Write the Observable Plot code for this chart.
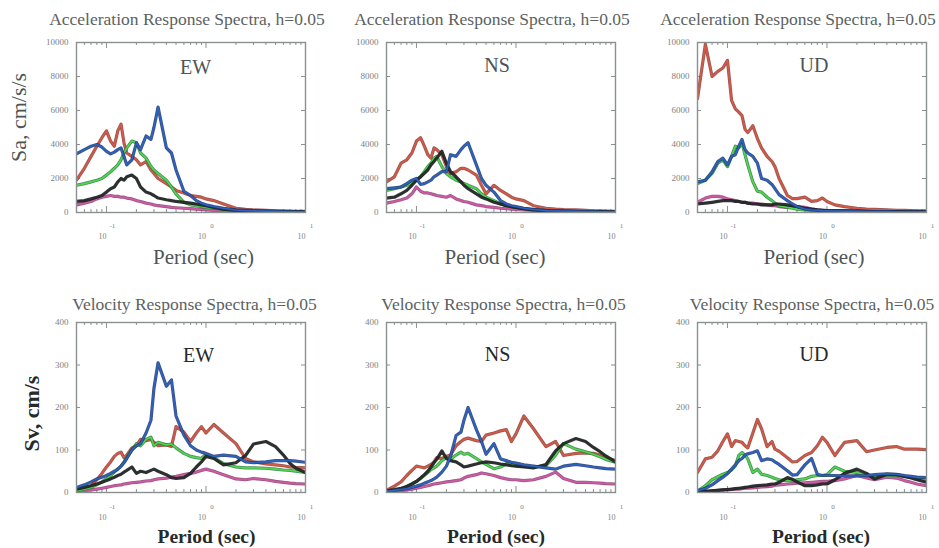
<!DOCTYPE html>
<html>
<head>
<meta charset="utf-8">
<script src="https://cdn.jsdelivr.net/npm/d3@7"></script>
<script src="https://cdn.jsdelivr.net/npm/@observablehq/plot@0.6"></script>
<style>
  html, body { margin: 0; padding: 0; background: #fff; }
  #root { position: relative; width: 939px; height: 548px; overflow: hidden; background: #fff; }
  .cell { position: absolute; }
</style>
</head>
<body>
<div id="root"></div>
<script>
// ---------- data ----------
const periods = [0.05,0.06,0.07,0.08,0.09,0.1,0.11,0.12,0.13,0.14,0.15,0.16,0.18,0.2,0.22,0.25,0.28,0.3,0.33,0.4,0.45,0.5,0.6,0.7,0.8,0.9,1.0,1.2,1.5,2,2.5,3,4,5,6,7,8,10];

const saTicks = [0, 2000, 4000, 6000, 8000, 10000];
const svTicks = [0, 100, 200, 300, 400];
const majorPeriods = [0.1, 1, 10];
const minorPeriods = [0.06,0.07,0.08,0.09,0.2,0.3,0.4,0.5,0.6,0.7,0.8,0.9,2,3,4,5,6,7,8,9];
const components = ["EW", "NS", "UD"];
const seriesNames = ["magenta", "red", "green", "black", "blue"];

// Acceleration response spectra, cm/s/s
const saEW_red     = [1900,2600,3300,3900,4400,4800,4200,3900,4800,5200,4100,3500,3300,3100,2800,3000,2500,2300,2000,1700,1500,1300,1150,1000,950,900,800,700,500,250,180,150,120,100,90,80,70,60];
const saEW_blue    = [3450,3700,3900,4000,3850,3600,3450,3550,3700,3800,3300,2800,3100,4100,3700,4500,4300,5000,6200,3800,3500,2500,1250,1000,700,550,450,350,250,150,120,100,80,70,60,50,45,40];
const saEW_green   = [1600,1700,1800,1900,2000,2200,2400,2600,2800,3100,3500,3800,4200,4100,3500,3200,2700,2500,2300,1900,1500,1100,600,450,400,350,300,250,180,120,100,80,70,60,50,45,40,35];
const saEW_black   = [650,700,800,900,1000,1200,1400,1500,1800,2000,1900,2100,2200,2000,1500,1200,1100,1000,850,750,700,650,600,550,500,450,400,300,200,120,100,80,70,60,50,45,40,35];
const saEW_magenta = [450,550,650,800,900,950,1000,950,950,900,900,850,800,700,650,550,500,450,400,350,300,280,250,230,200,180,160,130,100,80,70,60,50,45,40,35,30,30];

const saNS_red     = [1800,2100,2900,3100,3500,4200,4400,3900,3400,3200,3800,3700,3400,2700,2300,2400,2600,2600,2500,2200,1600,1100,1600,1300,1100,900,800,700,400,250,200,170,150,120,100,90,80,70];
const saNS_blue    = [1400,1450,1500,1700,1900,2000,1650,1700,1800,1900,2100,2200,2400,2400,3400,3300,3700,3900,4100,2800,2000,1600,1200,700,500,400,350,250,180,120,100,90,70,60,50,45,40,35];
const saNS_green   = [1300,1400,1500,1600,1750,1900,2100,2400,2700,2900,3200,3300,2700,2300,2100,1900,1800,1700,1600,1400,1100,900,700,500,400,350,300,220,160,110,90,80,70,60,50,45,40,35];
const saNS_black   = [850,900,1100,1300,1600,1900,2100,2300,2500,2800,3000,3200,3600,2900,2400,2100,1800,1600,1400,1100,900,800,600,500,400,350,300,220,150,100,80,70,60,50,45,40,35,30];
const saNS_magenta = [550,650,750,850,1100,1500,1250,1150,1150,1100,1050,1000,950,900,1000,800,700,650,600,450,400,350,300,250,220,200,180,150,120,90,80,70,60,50,45,40,35,30];

const saUD_red     = [6700,9900,8000,8300,8500,8950,6600,6100,5900,5700,4900,4700,5100,4350,3800,3300,3000,2700,2000,1000,820,820,900,650,700,850,650,450,350,250,200,180,150,130,120,110,100,100];
const saUD_blue    = [1800,1900,2400,3000,3200,2800,3300,3400,3900,4300,3700,3500,3300,2900,2000,1900,1650,1400,1050,700,500,350,200,150,130,110,100,90,80,70,60,55,50,45,40,40,35,35];
const saUD_green   = [1700,1900,2300,2900,3100,2700,3300,3900,3800,4100,3400,2800,1800,1250,1200,900,700,550,400,300,250,200,150,130,110,100,90,80,70,60,55,50,45,40,40,35,35,30];
const saUD_black   = [500,550,600,650,700,700,700,650,650,600,600,550,500,500,450,450,450,500,500,450,400,350,250,200,150,130,110,100,90,80,70,60,55,50,45,40,40,35];
const saUD_magenta = [600,850,950,950,900,800,750,700,650,600,600,550,550,500,500,450,400,400,350,300,300,350,300,200,150,130,110,100,90,80,70,60,55,50,45,40,40,35];

// Velocity response spectra, cm/s
const svEW_red     = [8,10,15,30,45,60,72,85,92,95,82,88,105,110,125,122,125,118,110,112,108,155,142,120,140,155,140,160,140,115,80,72,67,65,63,60,59,58];
const svEW_blue    = [12,18,25,32,36,40,45,50,55,62,70,80,100,110,115,140,170,245,305,250,265,180,135,110,100,95,92,85,88,85,72,70,72,75,75,75,74,71];
const svEW_green   = [4,8,12,18,25,32,40,48,55,62,72,82,100,115,110,125,130,110,118,112,114,105,92,85,82,80,90,82,68,60,58,58,57,55,53,52,50,47];
const svEW_black   = [8,12,16,20,24,28,32,36,40,43,48,52,60,45,50,47,52,55,50,42,35,33,35,45,60,72,85,80,65,70,87,114,120,108,88,68,57,47];
const svEW_magenta = [2,4,6,8,10,12,14,16,17,18,20,21,23,24,25,27,28,30,32,34,36,38,42,45,48,52,55,50,42,32,30,33,30,26,24,22,21,20];

const svNS_red     = [5,15,25,40,52,62,60,58,62,66,72,82,80,85,88,110,120,125,128,122,120,135,140,145,148,120,138,180,150,108,120,87,92,93,92,88,82,75];
const svNS_blue    = [3,5,7,9,12,15,18,22,25,28,32,36,48,62,85,134,142,170,200,148,120,90,115,79,75,71,69,65,62,58,55,62,66,63,60,58,56,55];
const svNS_green   = [3,5,8,14,20,26,33,40,47,54,58,62,75,82,78,88,95,90,92,80,72,66,56,60,68,66,63,62,60,63,88,115,102,96,90,84,78,71];
const svNS_black   = [4,7,10,14,20,26,34,42,50,60,70,78,98,80,75,72,65,60,62,67,70,72,70,67,65,63,62,60,58,66,98,115,127,120,106,96,86,72];
const svNS_magenta = [2,3,4,6,8,10,12,14,16,18,20,21,23,25,26,28,30,34,38,42,46,44,40,35,32,30,30,28,30,38,48,33,24,24,23,22,21,20];

const svUD_red     = [47,79,83,98,120,138,108,122,120,118,110,105,140,172,150,108,120,102,97,82,72,73,87,94,110,130,118,87,118,122,96,100,106,108,102,102,102,101];
const svUD_blue    = [4,10,18,28,36,44,55,65,75,80,88,91,94,98,75,79,77,72,66,51,41,42,65,80,43,40,40,40,39,39,40,42,44,43,40,38,36,35];
const svUD_green   = [3,16,30,37,43,47,53,63,87,94,88,79,47,55,43,40,36,33,30,28,28,30,32,38,40,40,42,60,50,47,38,40,40,40,38,36,34,31];
const svUD_black   = [2,3,4,5,6,7,8,9,10,11,12,13,15,16,17,18,20,20,24,35,31,25,16,16,18,20,20,30,45,55,45,32,43,42,38,34,30,24];
const svUD_magenta = [2,3,4,5,6,6,7,8,8,9,10,10,11,12,13,14,15,17,18,20,21,22,23,24,25,26,26,28,32,40,34,30,36,34,28,24,20,16];

const saData = {
  EW: {red: saEW_red, blue: saEW_blue, green: saEW_green, black: saEW_black, magenta: saEW_magenta},
  NS: {red: saNS_red, blue: saNS_blue, green: saNS_green, black: saNS_black, magenta: saNS_magenta},
  UD: {red: saUD_red, blue: saUD_blue, green: saUD_green, black: saUD_black, magenta: saUD_magenta}
};
const svData = {
  EW: {red: svEW_red, blue: svEW_blue, green: svEW_green, black: svEW_black, magenta: svEW_magenta},
  NS: {red: svNS_red, blue: svNS_blue, green: svNS_green, black: svNS_black, magenta: svNS_magenta},
  UD: {red: svUD_red, blue: svUD_blue, green: svUD_green, black: svUD_black, magenta: svUD_magenta}
};

// ---------- styles / layout ----------
const lineColors = {red: "#d35a48", blue: "#2b63c0", green: "#4ed84e", black: "#2a2e2e", magenta: "#d05aa6"};
const edgeColors = {red: "#8e3a30", blue: "#1d3570", green: "#2a7a3a", black: "#111414", magenta: "#8a3a70"};
const SERIF = "'Liberation Serif', 'DejaVu Serif', serif";
const FW = 229, FH = 170, ML = 60, MR = 10, MT = 40, MB = 60;
const frameLefts = [76, 386, 697];
const frameTops = [42, 322];

const rows = [
  {title: "Acceleration Response Spectra, h=0.05", ylab: "Sa, cm/s/s", ticks: saTicks, yMax: 10000, data: saData,
   titleDy: -18, titleDx: [-4, -9, -14], labDx: [4.5, -4, 2], labDy: [31, 29, 29], xlabDx: [12.5, -6, 2], xlabDy: 51,
   xlabSize: 21, ylabDx: -58, ylabDy: -10, textColor: "#4d5555", xlabWeight: "normal", tickDy: [26, 15]},
  {title: "Velocity Response Spectra, h=0.05", ylab: "Sv, cm/s", ticks: svTicks, yMax: 400, data: svData,
   titleDy: -13, titleDx: [3.5, 2.5, 0], labDx: [7.5, -3.5, 2], labDy: [39, 38, 38], xlabDx: [15.5, -5, 9], xlabDy: 50,
   xlabSize: 19.5, ylabDx: -45, ylabDy: 6, textColor: "#262a2a", xlabWeight: "bold", tickDy: [27, 16]}
];

const sup = {"-1": "-1", "0": "0", "1": "1"};

function makePanel(row, c) {
  const comp = components[c];
  const marks = [];
  // inward y ticks, left and right
  marks.push(Plot.tickY(row.ticks, {y: d => d, insetRight: FW - 4, stroke: "#8a8f8f", strokeWidth: 1}));
  marks.push(Plot.tickY(row.ticks, {y: d => d, insetLeft: FW - 4, stroke: "#8a8f8f", strokeWidth: 1}));
  // inward x ticks, bottom and top
  marks.push(Plot.tickX(minorPeriods, {x: d => d, insetTop: FH - 3, stroke: "#8a8f8f"}));
  marks.push(Plot.tickX(minorPeriods, {x: d => d, insetBottom: FH - 3, stroke: "#8a8f8f"}));
  marks.push(Plot.tickX(majorPeriods, {x: d => d, insetTop: FH - 6, stroke: "#8a8f8f"}));
  marks.push(Plot.tickX(majorPeriods, {x: d => d, insetBottom: FH - 6, stroke: "#8a8f8f"}));
  // y tick labels
  marks.push(Plot.text(row.ticks, {y: d => d, text: d => String(d), frameAnchor: "left", textAnchor: "end", dx: -8,
    fontSize: 9, fill: "#7d8282", fontFamily: SERIF}));
  // x tick labels 10^n
  marks.push(Plot.text(majorPeriods, {x: d => d, text: () => "10", frameAnchor: "bottom", dy: row.tickDy[0], dx: -4,
    fontSize: 8, fill: "#7d8282", fontFamily: SERIF}));
  marks.push(Plot.text(majorPeriods, {x: d => d, text: d => sup[String(Math.round(Math.log10(d)))], frameAnchor: "bottom",
    dy: row.tickDy[1], dx: 6, fontSize: 7, fill: "#7d8282", fontFamily: SERIF}));
  // spectra lines: dark edge underneath, coloured core on top
  for (const s of seriesNames) {
    const vals = row.data[comp][s];
    const pts = periods.map((T, i) => ({T, v: vals[i]}));
    marks.push(Plot.line(pts, {x: "T", y: "v", stroke: edgeColors[s], strokeWidth: 3.2, strokeOpacity: 0.85, strokeLinejoin: "round", clip: true}));
    marks.push(Plot.line(pts, {x: "T", y: "v", stroke: lineColors[s], strokeWidth: 1.6, strokeLinejoin: "round", clip: true}));
  }
  marks.push(Plot.frame({stroke: "#8a8f8f", strokeWidth: 1.4}));
  // texts
  marks.push(Plot.text([row.title], {frameAnchor: "top", lineAnchor: "bottom", dy: row.titleDy, dx: row.titleDx[c],
    fontSize: 17.5, fill: "#5b6262", fontFamily: SERIF}));
  marks.push(Plot.text([comp], {frameAnchor: "top", lineAnchor: "bottom", dy: row.labDy[c], dx: row.labDx[c],
    fontSize: 20, fill: row.textColor, fontFamily: SERIF}));
  marks.push(Plot.text(["Period (sec)"], {frameAnchor: "bottom", lineAnchor: "bottom", dy: row.xlabDy, dx: row.xlabDx[c],
    fontSize: row.xlabSize, fill: row.textColor, fontWeight: row.xlabWeight, fontFamily: SERIF}));
  if (c === 0) {
    marks.push(Plot.text([row.ylab], {frameAnchor: "left", textAnchor: "middle", rotate: -90, dx: row.ylabDx, dy: row.ylabDy,
      fontSize: 22, fill: row.textColor, fontWeight: row.xlabWeight, fontFamily: SERIF}));
  }
  return Plot.plot({
    width: ML + FW + MR, height: MT + FH + MB,
    marginLeft: ML, marginRight: MR, marginTop: MT, marginBottom: MB,
    x: {type: "log", domain: [0.05, 10], axis: null},
    y: {domain: [0, row.yMax], axis: null},
    style: {background: "transparent", overflow: "visible", fontFamily: SERIF},
    marks
  });
}

const root = document.getElementById("root");
rows.forEach((row, r) => {
  components.forEach((comp, c) => {
    const div = document.createElement("div");
    div.className = "cell";
    div.style.left = (frameLefts[c] - ML) + "px";
    div.style.top = (frameTops[r] - MT) + "px";
    div.appendChild(makePanel(row, c));
    root.appendChild(div);
  });
});
</script>
</body>
</html>
